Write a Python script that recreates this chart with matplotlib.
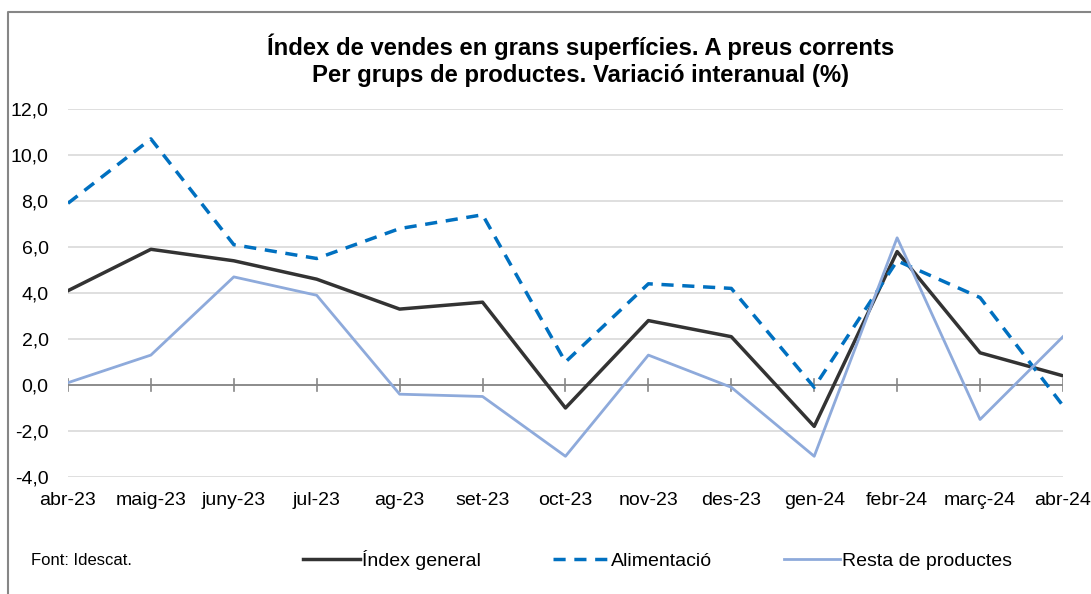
import matplotlib.pyplot as plt
from matplotlib.ticker import FuncFormatter, MultipleLocator
from matplotlib.lines import Line2D

plt.rcParams['font.family'] = ['Liberation Sans', 'DejaVu Sans']

months = ['abr-23', 'maig-23', 'juny-23', 'jul-23', 'ag-23', 'set-23', 'oct-23',
          'nov-23', 'des-23', 'gen-24', 'febr-24', 'març-24', 'abr-24']
index_general = [4.1, 5.9, 5.4, 4.6, 3.3, 3.6, -1.0, 2.8, 2.1, -1.8, 5.8, 1.4, 0.4]
alimentacio = [7.9, 10.7, 6.1, 5.5, 6.8, 7.4, 1.0, 4.4, 4.2, -0.1, 5.4, 3.8, -0.9]
resta = [0.1, 1.3, 4.7, 3.9, -0.4, -0.5, -3.1, 1.3, -0.1, -3.1, 6.4, -1.5, 2.1]

fig = plt.figure(figsize=(10.91, 5.94), dpi=100)
ax = fig.add_axes([0.0623, 0.197, 0.912, 0.6195])

x = range(len(months))
l1, = ax.plot(x, index_general, color='#333333', lw=2.5, label='Índex general')
l2, = ax.plot(x, alimentacio, color='#0070c0', lw=2.5, ls=(0, (3.5, 2.5)), label='Alimentació')
l3, = ax.plot(x, resta, color='#8eaadb', lw=2, label='Resta de productes')

ax.set_xlim(0, len(months) - 1)
ax.set_ylim(-4, 12)
ax.yaxis.set_major_locator(MultipleLocator(2))
ax.yaxis.set_major_formatter(FuncFormatter(lambda v, p: f'{v:.1f}'.replace('.', ',')))
ax.grid(axis='y', color='#d9d9d9', lw=1.2)
ax.set_axisbelow(True)
for s in ax.spines.values():
    s.set_visible(False)
ax.axhline(0, color='#868686', lw=1.3, zorder=1)
for i in x:
    ax.plot([i, i], [-0.26, 0.26], color='#868686', lw=1.2, zorder=1)

ax.set_xticks(list(x))
ax.set_xticklabels(months)
ax.tick_params(axis='both', length=0, labelsize=14, colors='black')
ax.tick_params(axis='y', pad=14)
ax.tick_params(axis='x', pad=11)

fig.text(0.532, 0.922, 'Índex de vendes en grans superfícies. A preus corrents',
         ha='center', va='center', fontsize=17.2, fontweight='bold')
fig.text(0.532, 0.873, 'Per grups de productes. Variació interanual (%)',
         ha='center', va='center', fontsize=17.2, fontweight='bold')

fig.text(0.0284, 0.056, 'Font: Idescat.', fontsize=12, va='center')
fig.legend(handles=[l1, l2, l3], loc='center', bbox_to_anchor=(0.603, 0.058), ncol=3,
           frameon=False, fontsize=14, handlelength=2.9, handletextpad=0.1,
           columnspacing=3.7)

# outer frame: only the top and left edges fall inside the picture
fig.lines.append(Line2D([0.0073, 0.0073, 1.0], [0.0, 0.9798, 0.9798],
                        transform=fig.transFigure, color='#868686', lw=1.5))

fig.savefig('out.png', dpi=100)
